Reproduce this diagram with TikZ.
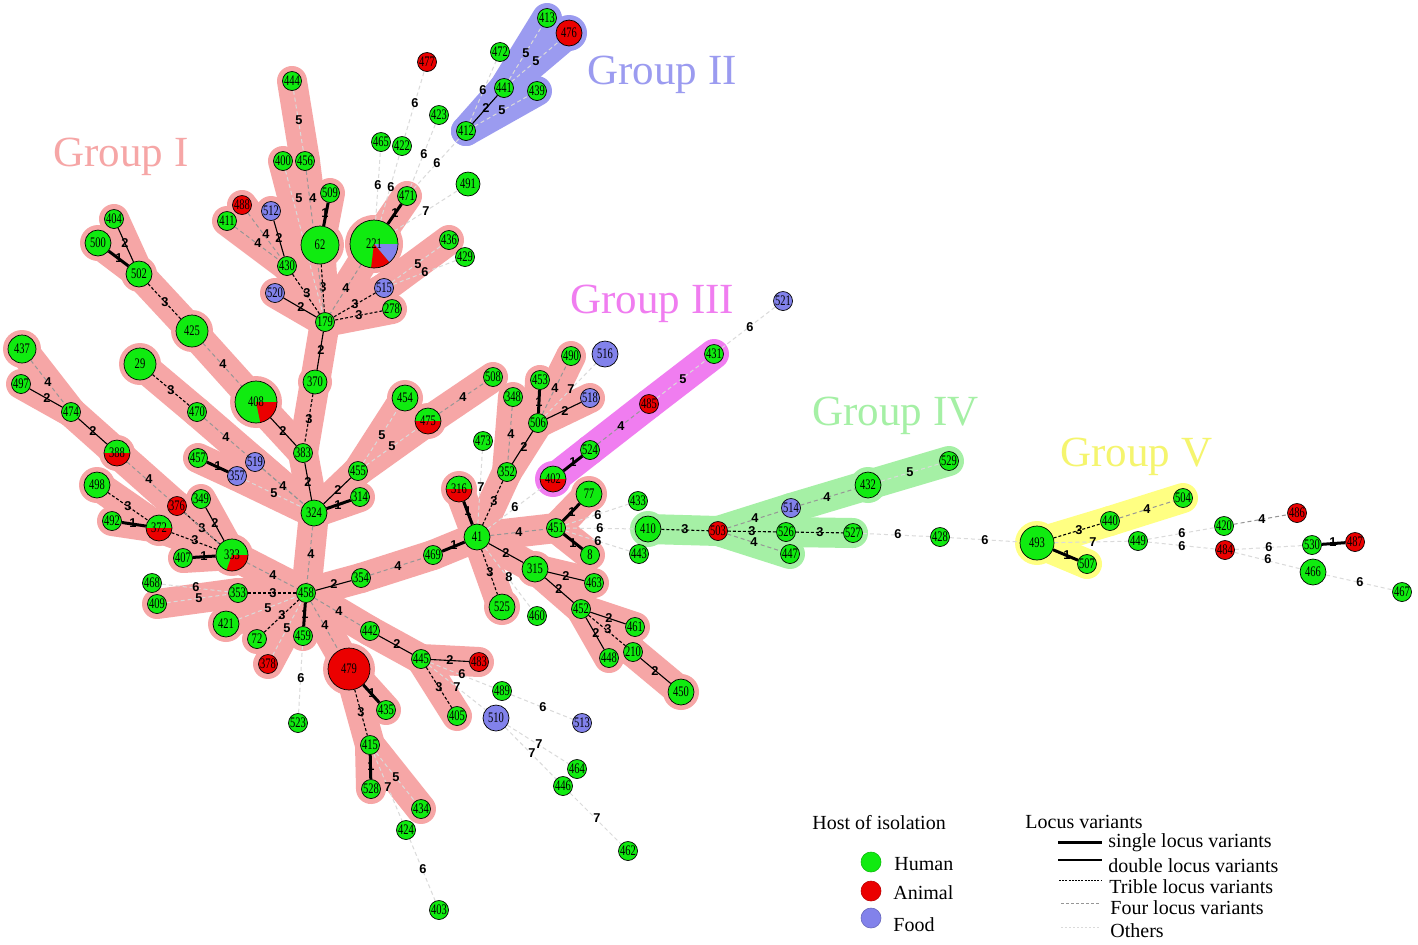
\documentclass[tikz,border=0pt]{standalone}
\usepackage{fontspec}
\setmainfont{Liberation Serif}
\newfontfamily\nlabfont[FakeStretch=0.72]{Liberation Serif}
\newfontfamily\elabfont{Liberation Sans}
\definecolor{human}{RGB}{16,235,16}
\definecolor{animal}{RGB}{235,0,0}
\definecolor{food}{RGB}{130,130,235}
\definecolor{gI}{RGB}{246,166,166}
\definecolor{gII}{RGB}{155,155,240}
\definecolor{gIII}{RGB}{240,125,240}
\definecolor{gIV}{RGB}{165,240,165}
\definecolor{gV}{RGB}{255,255,130}
\definecolor{gVt}{RGB}{245,245,110}
\definecolor{lvfour}{RGB}{150,150,150}
\definecolor{lvo}{RGB}{218,218,218}
\pgfdeclarelayer{bg}\pgfdeclarelayer{hull}\pgfdeclarelayer{edge}
\pgfsetlayers{bg,hull,edge,main}
\tikzset{
 nd/.style={circle,draw=black,line width=0.35pt,inner sep=0pt,font=\nlabfont\fontsize{7.3}{7.3}\selectfont},
 hs/.style={nd,fill=human,minimum size=9.5pt},
 hm/.style={nd,fill=human,minimum size=13pt},
 hl/.style={nd,fill=human,minimum size=16pt},
 as/.style={nd,fill=animal,minimum size=9.5pt},
 am/.style={nd,fill=animal,minimum size=13pt},
 fs/.style={nd,fill=food,minimum size=9.5pt},
 fm/.style={nd,fill=food,minimum size=13pt},
 half/.style={nd,fill=human,minimum size=13pt,path picture={\fill[animal] (path picture bounding box.west) rectangle (path picture bounding box.south east);}},
 v1/.style={line width=1.5pt,black},
 v2/.style={line width=0.55pt,black},
 v3/.style={line width=0.55pt,black,dash pattern=on 1.5pt off 1pt},
 v4/.style={line width=0.5pt,lvfour,dash pattern=on 2pt off 1.5pt},
 vo/.style={line width=0.5pt,lvo,dash pattern=on 2pt off 1.5pt},
 elab/.style={font=\elabfont\bfseries\fontsize{6.4}{6.4}\selectfont,text=black,inner sep=0pt},
 hI/.style={line width=15pt,gI,line cap=round,line join=round},
 hII/.style={line width=15pt,gII,line cap=round,line join=round},
 hIII/.style={line width=15pt,gIII,line cap=round,line join=round},
 hIV/.style={line width=15pt,gIV,line cap=round,line join=round},
 hV/.style={line width=15pt,gV,line cap=round,line join=round},
 grp/.style={anchor=base west,font=\fontsize{21.5}{21.5}\selectfont,inner sep=0pt},
 leg/.style={anchor=base west,font=\fontsize{10}{10}\selectfont,inner sep=0pt},
}
\newcommand\ed[5]{\draw[#1] (n#2) -- (n#3) node[elab,at={(#4)}] {#5};}
\begin{document}
\begin{tikzpicture}[x=0.5pt,y=-0.5pt]
\useasboundingbox (0,0) rectangle (1418,944);
\begin{pgfonlayer}{bg}\fill[white] (0,0) rectangle (1418,944);\end{pgfonlayer}
% ---------- nodes: group I region
\node[hs] (n444) at (292,81) {444};
\node[hs] (n400) at (283,161) {400};
\node[hs] (n456) at (305,161) {456};
\node[hs] (n509) at (330,193) {509};
\node[hs,minimum size=19pt] (n62) at (320,245) {62};
\node[as] (n488) at (242,205) {488};
\node[hs] (n411) at (227,221) {411};
\node[fs] (n512) at (271,211) {512};
\node[hs] (n430) at (287,266) {430};
\node[fs] (n520) at (275,293) {520};
\node[hs] (n179) at (325,322) {179};
\node[hs,minimum size=24pt,path picture={
  \fill[food] (path picture bounding box.center) -- +(0:20pt) arc[start angle=0,end angle=-50,radius=20pt] -- cycle;
  \fill[animal] (path picture bounding box.center) -- +(-50:20pt) arc[start angle=-50,end angle=-97,radius=20pt] -- cycle;}] (n221) at (374,244) {221};
\node[hs] (n471) at (407,196) {471};
\node[hs] (n465) at (381,142) {465};
\node[hs] (n422) at (402,146) {422};
\node[hs] (n423) at (439,115) {423};
\node[as] (n477) at (427,62) {477};
\node[hs,minimum size=12pt] (n491) at (468,184) {491};
\node[hs] (n436) at (449,240) {436};
\node[hs] (n429) at (465,257) {429};
\node[fs] (n515) at (384,288) {515};
\node[hs] (n278) at (392,309) {278};
\node[hs,minimum size=12pt] (n370) at (315,382) {370};
\node[hs] (n383) at (303,453) {383};
\node[hs,minimum size=21pt,path picture={
  \fill[animal] (path picture bounding box.center) -- +(0:20pt) arc[start angle=0,end angle=-78,radius=20pt] -- cycle;}] (n408) at (256,402) {408};
\node[hl] (n425) at (192,331) {425};
\node[hm] (n502) at (139,274) {502};
\node[hm] (n500) at (98,243) {500};
\node[hs] (n404) at (114,219) {404};
\node[hl] (n29) at (140,364) {29};
\node[hs] (n470) at (197,412) {470};
\node[hm,minimum size=14pt] (n437) at (22,349) {437};
\node[hs] (n497) at (21,384) {497};
\node[hs] (n474) at (71,412) {474};
\node[half] (n388) at (117,453) {388};
\node[hs] (n457) at (198,458) {457};
\node[fs] (n357) at (237,476) {357};
\node[fs] (n519) at (255,462) {519};
\node[hm] (n324) at (314,513) {324};
\node[hs] (n455) at (358,471) {455};
\node[hs] (n314) at (360,497) {314};
\node[hm] (n454) at (405,398) {454};
\node[half] (n475) at (428,421) {475};
\node[hs] (n508) at (493,377) {508};
\node[hm] (n498) at (97,485) {498};
\node[hs] (n492) at (112,521) {492};
\node[half] (n372) at (159,528) {372};
\node[as] (n376) at (177,506) {376};
\node[hs] (n349) at (201,499) {349};
\node[hl,path picture={
  \fill[animal] (path picture bounding box.center) -- +(0:20pt) arc[start angle=0,end angle=-110,radius=20pt] -- cycle;}] (n333) at (232,555) {333};
\node[hs] (n407) at (183,558) {407};
\node[hs] (n468) at (152,583) {468};
\node[hs] (n409) at (157,604) {409};
\node[hs] (n353) at (238,593) {353};
\node[hs] (n458) at (306,593) {458};
\node[hm] (n421) at (226,624) {421};
\node[hs] (n72) at (257,639) {72};
\node[as] (n378) at (268,664) {378};
\node[hs] (n459) at (303,636) {459};
\node[hs] (n354) at (361,578) {354};
\node[hs] (n442) at (370,631) {442};
\node[hs] (n445) at (421,659) {445};
\node[as] (n483) at (479,662) {483};
\node[hs] (n405) at (457,716) {405};
\node[as,minimum size=21pt] (n479) at (349,669) {479};
\node[hs] (n435) at (386,710) {435};
\node[hs] (n415) at (370,745) {415};
\node[hs] (n528) at (371,789) {528};
\node[hs] (n434) at (421,809) {434};
\node[hs] (n424) at (406,830) {424};
\node[hs] (n403) at (439,910) {403};
\node[hs] (n523) at (298,723) {523};
\node[hs] (n489) at (502,691) {489};
\node[fm] (n510) at (496,718) {510};
\node[fs] (n513) at (582,723) {513};
\node[hs] (n464) at (577,769) {464};
\node[hs] (n446) at (563,786) {446};
\node[hs] (n462) at (628,851) {462};
\node[hs] (n469) at (433,555) {469};
\node[hm] (n41) at (477,537) {41};
\node[half] (n316) at (459,489) {316};
\node[hs] (n473) at (483,441) {473};
\node[hs] (n352) at (507,472) {352};
\node[hs] (n348) at (513,397) {348};
\node[hs] (n506) at (538,423) {506};
\node[hs] (n453) at (540,380) {453};
\node[hs] (n490) at (571,356) {490};
\node[fm] (n516) at (605,354) {516};
\node[fs] (n518) at (590,398) {518};
\node[half] (n402) at (553,479) {402};
\node[hs] (n524) at (590,450) {524};
\node[as] (n485) at (649,404) {485};
\node[hs] (n431) at (714,354) {431};
\node[fs] (n521) at (783,301) {521};
\node[hs] (n451) at (556,528) {451};
\node[hm] (n77) at (589,494) {77};
\node[hs] (n8) at (590,555) {8};
\node[hs] (n433) at (638,501) {433};
\node[hs] (n443) at (639,554) {443};
\node[hm] (n315) at (535,569) {315};
\node[hs] (n463) at (594,583) {463};
\node[hm] (n525) at (502,607) {525};
\node[hs] (n460) at (537,616) {460};
\node[hs] (n452) at (581,609) {452};
\node[hs] (n461) at (635,627) {461};
\node[hs] (n210) at (633,652) {210};
\node[hs] (n448) at (609,658) {448};
\node[hm] (n450) at (681,692) {450};
% group II
\node[hs] (n413) at (547,18) {413};
\node[am] (n476) at (569,33) {476};
\node[hs] (n472) at (500,52) {472};
\node[hs] (n441) at (504,88) {441};
\node[hs] (n439) at (537,91) {439};
\node[hs] (n412) at (466,131) {412};
% group IV
\node[hm] (n410) at (648,529) {410};
\node[as] (n503) at (718,531) {503};
\node[fs] (n514) at (791,508) {514};
\node[hm] (n432) at (868,485) {432};
\node[hs] (n529) at (949,461) {529};
\node[hs] (n526) at (786,532) {526};
\node[hs] (n527) at (853,533) {527};
\node[hs] (n447) at (790,554) {447};
\node[hs] (n428) at (940,537) {428};
% group V and right
\node[hs,minimum size=17pt] (n493) at (1037,543) {493};
\node[hs] (n507) at (1087,564) {507};
\node[hs] (n440) at (1110,521) {440};
\node[hs] (n504) at (1183,498) {504};
\node[hs] (n449) at (1138,541) {449};
\node[hs] (n420) at (1224,526) {420};
\node[as] (n486) at (1297,513) {486};
\node[as] (n484) at (1225,550) {484};
\node[hs] (n530) at (1312,545) {530};
\node[as] (n487) at (1355,542) {487};
\node[hm] (n466) at (1313,572) {466};
\node[hs] (n467) at (1402,592) {467};
% ---------- group labels
\node[grp,text=gI] (tI) at (53,166) {Group I};
\node[grp,text=gII] (tII) at (587,84) {Group II};
\node[grp,text=gIII] (tIII) at (570,313) {Group III};
\node[grp,text=gIV] (tIV) at (812,425) {Group IV};
\node[grp,text=gVt] (tV) at (1060,466) {Group V};
% ---------- hulls
\begin{pgfonlayer}{hull}
\foreach \a/\b in {444/456,456/179,400/179,509/62,62/179,488/430,411/430,512/430,430/179,520/179,221/179,515/179,278/179,221/471,515/436,179/370,370/383,408/383,425/408,502/425,404/502,500/502,29/470,470/324,519/324,457/357,357/324,383/324,324/455,324/314,455/454,455/475,475/508,324/458,437/474,497/474,474/388,388/333,498/372,492/372,372/333,376/333,349/333,407/333,333/458,409/353,353/458,421/458,72/458,378/458,459/458,458/479,458/442,458/354,354/469,469/41,442/445,445/483,445/405,479/435,479/415,415/528,415/434,41/316,41/352,352/506,348/352,506/453,506/490,506/518,41/451,451/77,451/8,41/315,41/525,315/463,315/452,452/461,452/210,452/448,210/450}
  \draw[hI] (n\a.center) -- (n\b.center);
\foreach \n/\rr in {62/12,221/14.5,408/13,479/13,425/10.5,29/10.5,333/10.5,502/9,500/9,437/9.5,388/9,324/9,454/9,475/9,498/9,372/9,421/9,41/9,316/9,77/9,315/9,525/9,450/9,370/8.5}
  \fill[gI] (n\n.center) circle[radius=\rr pt];
\foreach \a/\b in {412/441,441/413,441/476,412/439}
  \draw[hII] (n\a.center) -- (n\b.center);
\fill[gII] (n476.center) circle[radius=9pt];
\foreach \a/\b in {402/524,524/485,485/431}
  \draw[hIII] (n\a.center) -- (n\b.center);
\fill[gIII] (n402.center) circle[radius=9pt];
\foreach \a/\b in {410/503,503/514,514/432,432/529,503/526,526/527,503/447}
  \draw[hIV] (n\a.center) -- (n\b.center);
\fill[gIV] (n410.center) circle[radius=9pt];
\fill[gIV] (n432.center) circle[radius=9pt];
\foreach \a/\b in {493/440,440/504,493/507}
  \draw[hV] (n\a.center) -- (n\b.center);
\fill[gV] (n493.center) circle[radius=11pt];
\end{pgfonlayer}
% ---------- edges
\begin{pgfonlayer}{edge}
\ed{v1}{509}{62}{325,213}{1}
\ed{v1}{500}{502}{119,258}{1}
\ed{v1}{457}{357}{218,466}{1}
\ed{v1}{324}{314}{338,505}{1}
\ed{v1}{492}{372}{133,523}{1}
\ed{v1}{407}{333}{204,556}{1}
\ed{v1}{459}{458}{305,614}{1}
\ed{v1}{469}{41}{454,545}{1}
\ed{v1}{479}{435}{372,693}{1}
\ed{v1}{415}{528}{371,766}{1}
\ed{v1}{41}{316}{468,511}{1}
\ed{v1}{506}{453}{539,402}{1}
\ed{v1}{402}{524}{573,462}{1}
\ed{v1}{451}{77}{572,512}{1}
\ed{v1}{451}{8}{573,543}{1}
\ed{v1}{493}{507}{1067,555}{1}
\ed{v1}{530}{487}{1333,542}{1}
\ed{v1}{221}{471}{395,213}{1}
\ed{v2}{404}{502}{125,243}{2}
\ed{v2}{408}{383}{283,431}{2}
\ed{v2}{179}{370}{321,350}{2}
\ed{v2}{497}{474}{47,398}{2}
\ed{v2}{474}{388}{93,431}{2}
\ed{v2}{383}{324}{308,482}{2}
\ed{v2}{324}{455}{338,490}{2}
\ed{v2}{349}{333}{215,523}{2}
\ed{v2}{458}{354}{334,584}{2}
\ed{v2}{442}{445}{397,644}{2}
\ed{v2}{445}{483}{450,660}{2}
\ed{v2}{512}{430}{279,238}{2}
\ed{v2}{520}{179}{301,307}{2}
\ed{v2}{412}{441}{486,108}{2}
\ed{v2}{352}{506}{524,447}{2}
\ed{v2}{506}{518}{565,411}{2}
\ed{v2}{41}{315}{506,553}{2}
\ed{v2}{315}{463}{566,576}{2}
\ed{v2}{315}{452}{559,589}{2}
\ed{v2}{452}{461}{609,618}{2}
\ed{v2}{452}{448}{596,633}{2}
\ed{v2}{210}{450}{655,671}{2}
\ed{v3}{62}{179}{323,287}{3}
\ed{v3}{430}{179}{307,293}{3}
\ed{v3}{515}{179}{355,304}{3}
\ed{v3}{278}{179}{359,315}{3}
\ed{v3}{370}{383}{309,419}{3}
\ed{v3}{502}{425}{165,302}{3}
\ed{v3}{29}{470}{171,390}{3}
\ed{v3}{498}{372}{128,506}{3}
\ed{v3}{372}{333}{195,540}{3}
\ed{v3}{376}{333}{202,528}{3}
\ed{v3}{353}{458}{273,593}{3}
\ed{v3}{72}{458}{282,615}{3}
\ed{v3}{445}{405}{439,687}{3}
\ed{v3}{479}{415}{361,712}{3}
\ed{v3}{41}{352}{494,501}{3}
\ed{v3}{41}{525}{490,572}{3}
\ed{v3}{452}{210}{608,629}{3}
\ed{v3}{410}{503}{685,529}{3}
\ed{v3}{503}{526}{752,531}{3}
\ed{v3}{526}{527}{820,532}{3}
\ed{v3}{493}{440}{1079,530}{3}
\ed{v4}{456}{179}{313,198}{4}
\ed{v4}{488}{430}{266,234}{4}
\ed{v4}{411}{430}{258,243}{4}
\ed{v4}{221}{179}{346,288}{4}
\ed{v4}{425}{408}{223,364}{4}
\ed{v4}{470}{324}{226,437}{4}
\ed{v4}{519}{324}{283,486}{4}
\ed{v4}{437}{474}{48,382}{4}
\ed{v4}{388}{333}{149,479}{4}
\ed{v4}{333}{458}{273,575}{4}
\ed{v4}{324}{458}{311,554}{4}
\ed{v4}{458}{479}{325,625}{4}
\ed{v4}{458}{442}{339,611}{4}
\ed{v4}{354}{469}{398,566}{4}
\ed{v4}{475}{508}{463,397}{4}
\ed{v4}{348}{352}{511,434}{4}
\ed{v4}{506}{490}{555,388}{4}
\ed{v4}{524}{485}{621,426}{4}
\ed{v4}{41}{451}{519,532}{4}
\ed{v4}{503}{514}{755,518}{4}
\ed{v4}{503}{447}{754,542}{4}
\ed{v4}{514}{432}{827,497}{4}
\ed{v4}{440}{504}{1147,509}{4}
\ed{v4}{420}{486}{1262,519}{4}
\ed{vo}{444}{456}{299,120}{5}
\ed{vo}{400}{179}{299,198}{5}
\ed{vo}{221}{465}{378,185}{6}
\ed{vo}{221}{422}{391,187}{6}
\ed{vo}{422}{477}{415,103}{6}
\ed{vo}{471}{423}{424,154}{6}
\ed{vo}{471}{412}{437,163}{6}
\ed{vo}{221}{491}{426,211}{7}
\ed{vo}{515}{436}{418,264}{5}
\ed{vo}{515}{429}{425,272}{6}
\ed{vo}{412}{472}{483,90}{6}
\ed{vo}{441}{413}{526,53}{5}
\ed{vo}{441}{476}{536,61}{5}
\ed{vo}{412}{439}{502,110}{5}
\ed{vo}{357}{324}{274,493}{5}
\ed{vo}{455}{454}{382,435}{5}
\ed{vo}{455}{475}{392,446}{5}
\ed{vo}{468}{353}{196,587}{6}
\ed{vo}{409}{353}{199,598}{5}
\ed{vo}{421}{458}{268,608}{5}
\ed{vo}{378}{458}{287,628}{5}
\ed{vo}{459}{523}{301,678}{6}
\ed{vo}{445}{489}{462,674}{6}
\ed{vo}{445}{510}{457,687}{7}
\ed{vo}{415}{434}{396,777}{5}
\ed{vo}{415}{424}{388,787}{7}
\ed{vo}{424}{403}{423,869}{6}
\ed{vo}{489}{513}{543,707}{6}
\ed{vo}{510}{464}{539,744}{7}
\ed{vo}{510}{446}{532,753}{7}
\ed{vo}{446}{462}{597,818}{7}
\ed{vo}{41}{473}{481,487}{7}
\ed{vo}{41}{460}{509,577}{8}
\ed{vo}{506}{516}{571,389}{7}
\ed{vo}{41}{402}{515,507}{6}
\ed{vo}{485}{431}{683,379}{5}
\ed{vo}{431}{521}{750,327}{6}
\ed{vo}{451}{433}{598,515}{6}
\ed{vo}{451}{410}{600,528}{6}
\ed{vo}{451}{443}{598,541}{6}
\ed{vo}{432}{529}{910,472}{5}
\ed{vo}{527}{428}{898,534}{6}
\ed{vo}{428}{493}{985,540}{6}
\ed{vo}{493}{449}{1093,542}{7}
\ed{vo}{449}{420}{1182,533}{6}
\ed{vo}{449}{484}{1182,546}{6}
\ed{vo}{484}{530}{1269,547}{6}
\ed{vo}{484}{466}{1268,559}{6}
\ed{vo}{466}{467}{1360,582}{6}
\end{pgfonlayer}
% ---------- legend
\node[leg] (lhost) at (812,829) {Host of isolation};
\node[circle,inner sep=0pt,minimum size=10pt,fill=human,draw=human!80!black,line width=0.3pt] (lh) at (871,862) {};
\node[circle,inner sep=0pt,minimum size=10pt,fill=animal,draw=animal!80!black,line width=0.3pt] (la) at (871,891) {};
\node[circle,inner sep=0pt,minimum size=10pt,fill=food,draw=food!80!black,line width=0.3pt] (lf) at (871,918) {};
\node[leg] (lht) at (894,870) {Human};
\node[leg] (lat) at (893,899) {Animal};
\node[leg] (lft) at (893,931) {Food};
\node[leg] (lloc) at (1025,828) {Locus variants};
\coordinate (la1) at (1058,842); \coordinate (lb1) at (1102,842);
\coordinate (la2) at (1058,860); \coordinate (lb2) at (1102,860);
\coordinate (la3) at (1059,880); \coordinate (lb3) at (1101,880);
\coordinate (la4) at (1061,903); \coordinate (lb4) at (1099,903);
\coordinate (la5) at (1061,927); \coordinate (lb5) at (1099,927);
\draw[v1] (la1) -- (lb1);
\draw[v2] (la2) -- (lb2);
\draw[line width=0.5pt,black,dash pattern=on 1pt off 0.6pt] (la3) -- (lb3);
\draw[line width=0.5pt,lvfour,dash pattern=on 1.5pt off 1pt] (la4) -- (lb4);
\draw[line width=0.5pt,lvo,dash pattern=on 1pt off 1pt] (la5) -- (lb5);
\node[leg] (lt1) at (1108,847) {single locus variants};
\node[leg] (lt2) at (1108,872) {double locus variants};
\node[leg] (lt3) at (1109,893) {Trible locus variants};
\node[leg] (lt4) at (1110,914) {Four locus variants};
\node[leg] (lt5) at (1110,937) {Others};
\end{tikzpicture}
\end{document}
